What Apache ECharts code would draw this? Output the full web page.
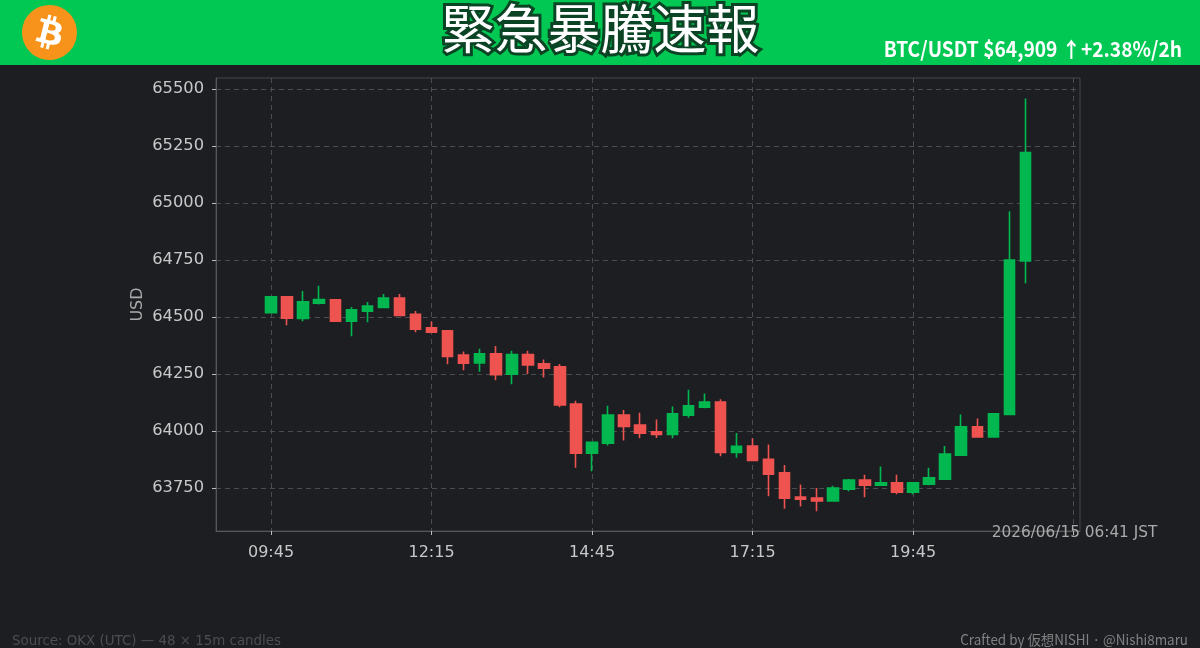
<!DOCTYPE html>
<html><head><meta charset="utf-8">
<style>html,body{margin:0;padding:0;background:#1c1e22}#c{width:1200px;height:648px}</style>
<script src="https://cdn.jsdelivr.net/npm/echarts@6/dist/echarts.min.js"></script>
</head><body><div id="c"></div>
<script>
const opens  = [64519,64588,64493,64560,64575,64481,64525,64542,64583,64512,64452,64439,64333,64298,64338,64249,64335,64294,64281,64118,63902,63946,64070,64026,63996,63985,64069,64104,64127,63906,63934,63876,63816,63710,63706,63693,63744,63785,63762,63772,63731,63766,63788,63893,64018,63974,64072,64746];
const closes = [64588,64494,64566,64576,64481,64531,64548,64583,64507,64446,64433,64327,64297,64338,64247,64335,64289,64275,64114,63902,63950,64070,64020,63990,63984,64075,64110,64127,63906,63933,63871,63810,63705,63700,63693,63749,63785,63762,63772,63731,63772,63794,63899,64018,63974,64075,64750,65221];
const lows   = [64515,64463,64481,64554,64480,64415,64477,64540,64505,64433,64431,64292,64266,64260,64222,64205,64250,64234,64104,63838,63823,63936,63958,63968,63969,63968,64058,64099,63889,63882,63870,63713,63659,63668,63648,63693,63735,63709,63760,63722,63722,63762,63787,63890,63972,63973,64070,64648];
const highs  = [64588,64590,64614,64637,64576,64544,64566,64601,64601,64526,64480,64443,64348,64360,64373,64352,64352,64313,64294,64132,63950,64110,64092,64080,64050,64107,64181,64164,64139,63991,63968,63940,63851,63765,63750,63759,63789,63808,63844,63808,63775,63838,63934,64072,64054,64076,64963,65458];
const xTickIndex = [0,10,20,30,40,50];
const xLabelIndex = [0,10,20,30,40];
const xTickLabels = ['09:45','12:15','14:45','17:15','19:45'];
const yTicks = [63750,64000,64250,64500,64750,65000,65250,65500];
const titleText = '緊急暴騰速報';
const priceText = 'BTC/USDT $64,909 ↑+2.38%/2h';
const stampText = '2026/06/15 06:41 JST';
const sourceText = 'Source: OKX (UTC) — 48 × 15m candles';
const creditText = 'Crafted by 仮想NISHI · @Nishi8maru';
const candleData = opens.map((o,i)=>[i,o,closes[i],lows[i],highs[i]]);
const UP='#00b84f', DOWN='#ef5350';
const btcCircle='M63.04 39.741c-4.274 17.143-21.638 27.575-38.783 23.301C7.12 58.768-3.313 41.404.962 24.262 5.234 7.117 22.597-3.317 39.737.957c17.144 4.274 27.576 21.64 23.302 38.784z';
const btcB='M46.11 27.441c.636-4.258-2.606-6.547-7.039-8.074l1.438-5.768-3.512-.875-1.4 5.616c-.923-.23-1.871-.447-2.813-.662l1.41-5.653-3.509-.875-1.439 5.766c-.764-.174-1.514-.346-2.242-.527l.004-.018-4.842-1.209-.934 3.75s2.605.597 2.55.634c1.422.355 1.679 1.296 1.636 2.042l-1.638 6.571c.098.025.225.061.365.117l-.371-.092-2.296 9.205c-.174.432-.615 1.08-1.609.834.035.051-2.552-.637-2.552-.637l-1.743 4.02 4.569 1.139c.85.213 1.683.436 2.503.646l-1.453 5.834 3.507.875 1.439-5.772c.958.26 1.888.5 2.798.726l-1.434 5.745 3.511.875 1.453-5.823c5.987 1.133 10.489.676 12.384-4.739 1.527-4.36-.076-6.875-3.226-8.515 2.294-.529 4.022-2.038 4.483-5.155zM38.087 38.69c-1.085 4.36-8.426 2.003-10.806 1.412l1.928-7.729c2.38.594 10.012 1.77 8.878 6.317zm1.086-11.312c-.99 3.966-7.1 1.951-9.082 1.457l1.748-7.01c1.982.494 8.365 1.416 7.334 5.553z';
echarts.graphic.registerShape('btcCircle',echarts.graphic.extendPath(btcCircle));
echarts.graphic.registerShape('btcB',echarts.graphic.extendPath(btcB));
const chart = echarts.init(document.getElementById('c'),null,{renderer:'canvas',width:1200,height:648});
const dash={color:'#4a4c4f',type:[5,4],width:1};
const logoScale=55/64;
chart.setOption({
  animation:false,
  backgroundColor:'#1c1e22',
  grid:{left:216,right:120,top:78,bottom:117,show:true,borderColor:'#444648',borderWidth:1,backgroundColor:'transparent'},
  xAxis:{type:'value',min:-3.43,max:50.4,
    axisLine:{show:true,onZero:false,lineStyle:{color:'#555759',width:1}},
    axisTick:{show:true,length:4,lineStyle:{color:'#bbbbbb'},customValues:xTickIndex},
    splitLine:{show:true,lineStyle:dash},
    axisLabel:{customValues:xLabelIndex,color:'#c8c8c8',fontFamily:'DejaVu Sans',fontSize:16,margin:14,
      formatter:v=>xTickLabels[xLabelIndex.indexOf(Math.round(v))]}},
  yAxis:{type:'value',min:63561,max:65548,name:'USD',nameLocation:'middle',nameGap:70,nameRotate:90,nameMoveOverlap:false,
    nameTextStyle:{color:'#aaaaaa',fontFamily:'DejaVu Sans',fontSize:16},
    axisLine:{show:true,onZero:false,lineStyle:{color:'#555759',width:1}},
    axisTick:{show:true,length:4,lineStyle:{color:'#bbbbbb'},customValues:yTicks},
    splitLine:{show:true,lineStyle:dash},
    axisLabel:{customValues:yTicks,color:'#c8c8c8',fontFamily:'DejaVu Sans',fontSize:16.3,margin:12,formatter:v=>String(v)}},
  series:[{type:'candlestick',data:candleData,encode:{x:0,y:[1,2,3,4]},barWidth:11,
    itemStyle:{color:UP,color0:DOWN,borderColor:UP,borderColor0:DOWN,borderWidth:1.6}}],
  graphic:[
    {type:'rect',z:50,shape:{x:0,y:0,width:1200,height:65},style:{fill:'#00c853'}},
    {type:'btcCircle',z:51,x:22,y:5,scaleX:logoScale,scaleY:logoScale,style:{fill:'#f7931a'}},
    {type:'btcB',z:52,x:22,y:5,scaleX:logoScale,scaleY:logoScale,style:{fill:'#fff'}},
    {type:'text',z:53,x:600.5,y:28.5,style:{text:titleText,fill:'#ffffff',stroke:'#0b4424',lineWidth:6,align:'center',verticalAlign:'middle',font:'400 53px "Noto Sans CJK JP"',lineJoin:'round'}},
    {type:'text',z:53,x:1182,y:49,scaleX:0.914,style:{text:priceText,fill:'#ffffff',align:'right',verticalAlign:'middle',font:'700 21px "Noto Sans CJK JP"'}},
    {type:'text',z:53,x:1074.5,y:533.5,style:{text:stampText,fill:'#aaaaaa',align:'center',verticalAlign:'middle',font:'15.3px "DejaVu Sans"'}},
    {type:'text',z:53,x:12,y:641.5,style:{text:sourceText,fill:'#4c4e50',align:'left',verticalAlign:'middle',font:'13.4px "DejaVu Sans"'}},
    {type:'text',z:53,x:1188,y:640,scaleX:0.958,style:{text:creditText,fill:'#808080',align:'right',verticalAlign:'middle',font:'14px "Noto Sans CJK JP"'}}
  ]
});
</script></body></html>
